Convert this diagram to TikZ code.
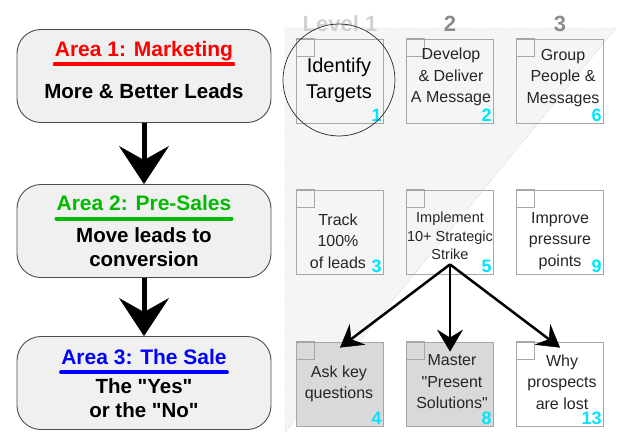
\documentclass[tikz,border=0pt]{standalone}
\usepackage{fontspec}
\newfontfamily\arialf{Liberation Sans}
\usetikzlibrary{arrows.meta}
\definecolor{numcyan}{HTML}{00E5FF}
\definecolor{areagreen}{HTML}{00BB00}

\begin{document}
\begin{tikzpicture}[x=1pt,y=-1pt,
  area/.style={draw=black!70,fill=black!6,rounded corners=24pt,line width=0.9pt,
    minimum width=254pt,minimum height=93pt},
  ttl/.style={font=\arialf\bfseries\fontsize{21}{24}\selectfont,inner sep=0pt},
  uline/.style={line width=4pt,line cap=round},
  body/.style={font=\arialf\bfseries\fontsize{20.5}{23.5}\selectfont,align=center,inner sep=0pt},
  task/.style={draw=black!35,line width=0.8pt,minimum width=87pt,minimum height=84pt,inner sep=0pt},
  txt/.style={font=\arialf\fontsize{16}{21.5}\selectfont,align=center,inner sep=0pt,text=black!85},
  num/.style={anchor=south east,font=\arialf\bfseries\fontsize{18}{18}\selectfont,text=numcyan,inner sep=2pt},
  lvl/.style={font=\arialf\bfseries\fontsize{22}{22}\selectfont,inner sep=0pt},
  bigarr/.style={line width=5pt,-{Stealth[length=38pt,width=50pt,inset=14pt,line width=0.5pt]}},
  smallarr/.style={line width=2.5pt,-{Stealth[length=22pt,width=26pt,inset=8pt,line width=0.5pt]}}]
  \useasboundingbox (0,0) rectangle (621,431);

  % shaded level area
  \fill[black!4] (285,28) -- (616,28) -- (285,432) -- cycle;
  \draw[black!30,densely dotted] (285,431) -- (285,28) -- (616,28) -- (285,432);

  \node[lvl,text=black!18] (lv1) at (340,24) {Level 1};
  \node[lvl,text=black!45] (lv2) at (450,24) {2};
  \node[lvl,text=black!45] (lv3) at (560,24) {3};

  % left column
  \node[area] (a1) at (144,76) {};
  \node[area] (a2) at (144,231) {};
  \node[area] (a3) at (144,383) {};

  \node[ttl,text=red] (t1) at (144,51) {Area 1: Marketing};
  \draw[uline,red] ([yshift=-8pt]t1.base west) -- ([yshift=-8pt]t1.base east);
  \node[body] (m1) at (144,91) {More \& Better Leads};

  \node[ttl,text=areagreen] (t2) at (144,203) {Area 2: Pre-Sales};
  \draw[uline,areagreen] ([yshift=-8pt]t2.base west) -- ([yshift=-8pt]t2.base east);
  \node[body] (m2) at (144,247) {Move leads to\\conversion};

  \node[ttl,text=blue] (t3) at (144,357) {Area 3: The Sale};
  \draw[uline,blue] ([yshift=-8pt]t3.base west) -- ([yshift=-8pt]t3.base east);
  \node[body] (m3) at (144,398) {The "Yes"\\or the "No"};

  \draw[bigarr] (a1) -- (a2);
  \draw[bigarr] (a2) -- (a3);

  % level boxes
  \foreach \k/\cx/\cy/\f in {1/340/81/none,2/450/81/none,6/560/81/none,
      3/340/232/none,5/450/232/none,9/560/232/white,
      4/340/384/black!15,8/450/384/black!15,13/560/384/white} {
    \node[task,fill=\f] (b\k) at (\cx,\cy) {};
    \draw[black!35,line width=0.8pt] (b\k.north west) rectangle ++(18,18);
    \node[num] (n\k) at (b\k.south east) {\k};
  }

  \node[circle,draw=black!85,line width=0.7pt,minimum size=112pt,inner sep=0pt] (ring) at (339,80) {};

  \node[txt,font=\arialf\fontsize{20}{26}\selectfont,text=black] (x1) at (339,80) {Identify\\Targets};
  \node[txt] (x2) at (451,77) {Develop\\\& Deliver\\A Message};
  \node[txt] (x6) at (563,78) {Group\\People \&\\Messages};
  \node[txt] (x3) at (338,241) {Track\\100\%\\of leads};
  \node[txt,font=\arialf\fontsize{14.5}{18.5}\selectfont] (x5) at (450,236) {Implement\\10+ Strategic\\Strike};
  \node[txt] (x9) at (560,241) {Improve\\pressure\\points};
  \node[txt] (x4) at (339,384) {Ask key\\questions};
  \node[txt] (x8) at (452,382) {Master\\"Present\\Solutions"};
  \node[txt] (x13) at (562,382) {Why\\prospects\\are lost};

  \coordinate (fork) at ([yshift=10pt]b5.south);
  \draw[smallarr] (fork) -- ([yshift=-6pt]b4.north);
  \draw[smallarr] (fork) -- ([yshift=-10pt]b8.north);
  \draw[smallarr] (fork) -- ([yshift=-6pt]b13.north);
\end{tikzpicture}
\end{document}
